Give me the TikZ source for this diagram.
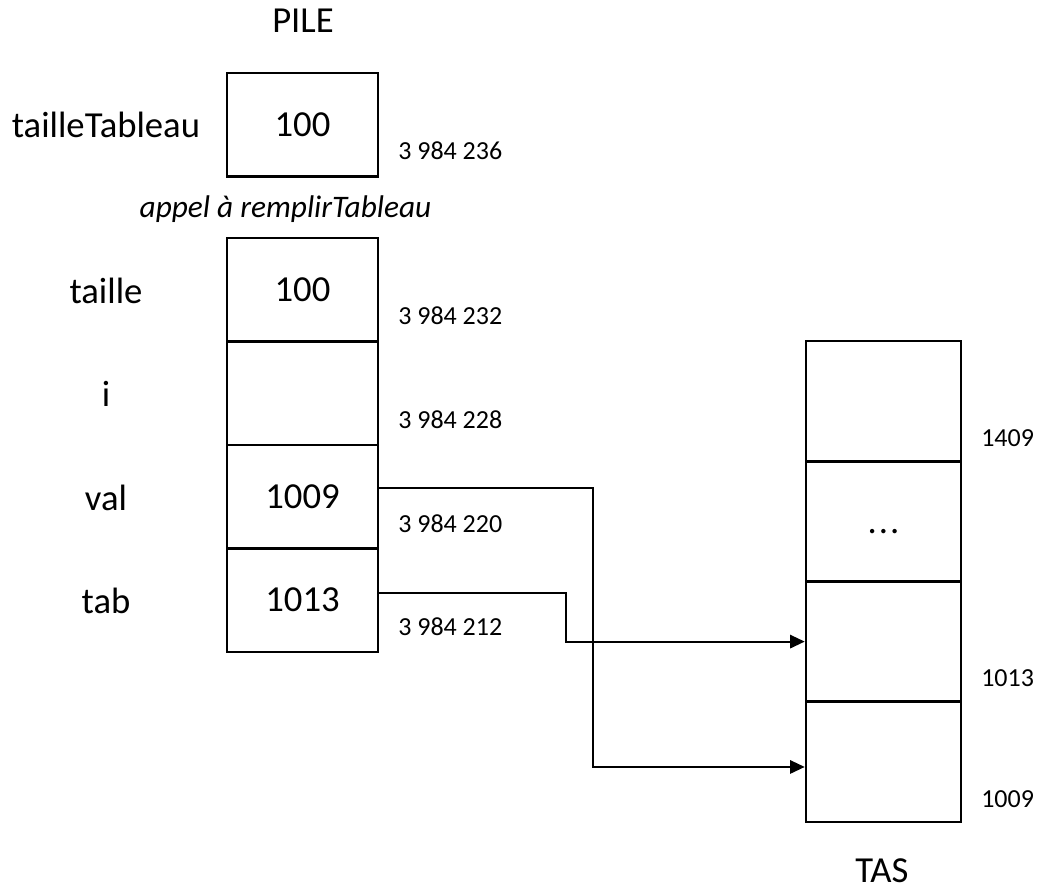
\documentclass[tikz,border=0pt]{standalone}
\usepackage{fontspec}
\setmainfont{Carlito}
\usetikzlibrary{arrows.meta}
\begin{document}
\begin{tikzpicture}[x=0.75pt,y=-0.75pt,
  big/.style={font=\fontsize{27.5}{32}\selectfont, inner sep=0pt},
  small/.style={font=\fontsize{19.5}{23}\selectfont, inner sep=0pt},
  ital/.style={font=\fontsize{23.5}{28}\selectfont\itshape, inner sep=0pt},
  scell/.style={draw, line width=1.9pt, minimum width=113.25pt, minimum height=77.6pt,
    inner sep=0pt, text height=17.6pt, text depth=0pt, font=\fontsize{27.5}{32}\selectfont},
  hcell/.style={draw, line width=1.9pt, minimum width=116.25pt, minimum height=90.2pt,
    inner sep=0pt, text height=17.6pt, text depth=0pt, font=\fontsize{27.5}{32}\selectfont},
  conn/.style={line width=1.5pt, -{Triangle[length=11pt,width=10pt]}}]
\useasboundingbox (0,0) rectangle (1047,896);

% titles
\node[big, anchor=base] (pile) at (303,32) {PILE};
\node[big, anchor=base] (tas) at (882,882) {TAS};
\node[ital, anchor=base] (appel) at (285.5,217) {appel à remplirTableau};

% stack cells
\node[scell] (tt) at (302.5,124.5) {100};
\node[scell] (taille) at (302.5,289.75) {100};
\node[scell] (i) at (302.5,393.25) {};
\node[scell] (val) at (302.5,496.75) {1009};
\node[scell] (tab) at (302.5,600.25) {1013};

% stack labels
\node[big, anchor=base] (ltt) at (106,137) {tailleTableau};
\node[big, anchor=base] (ltaille) at (106,303) {taille};
\node[big, anchor=base] (li) at (106,406) {i};
\node[big, anchor=base] (lval) at (106,510) {val};
\node[big, anchor=base] (ltab) at (106,613) {tab};

% stack addresses
\node[small, anchor=base west] (a236) at (398,159) {3 984 236};
\node[small, anchor=base west] (a232) at (398,324.5) {3 984 232};
\node[small, anchor=base west] (a228) at (398,428) {3 984 228};
\node[small, anchor=base west] (a220) at (398,532) {3 984 220};
\node[small, anchor=base west] (a212) at (398,635) {3 984 212};

% heap cells
\node[hcell] (h1409) at (883.5,401.1) {};
\node[hcell] (hdots) at (883.5,521.4) {.\kern1.5pt.\kern1.5pt.};
\node[hcell] (h1013) at (883.5,641.6) {};
\node[hcell] (h1009) at (883.5,761.9) {};

% heap addresses
\node[small, anchor=base west] (b1409) at (981,446) {1409};
\node[small, anchor=base west] (b1013) at (981,686) {1013};
\node[small, anchor=base west] (b1009) at (981,807) {1009};

% pointers
\draw[conn] ([yshift=6.5pt]val.east) -- ++(214,0) |- ([yshift=-3.8pt]h1009.west);
\draw[conn] ([yshift=5.4pt]tab.east) -- ++(187,0) |- (h1013.west);
\end{tikzpicture}
\end{document}
